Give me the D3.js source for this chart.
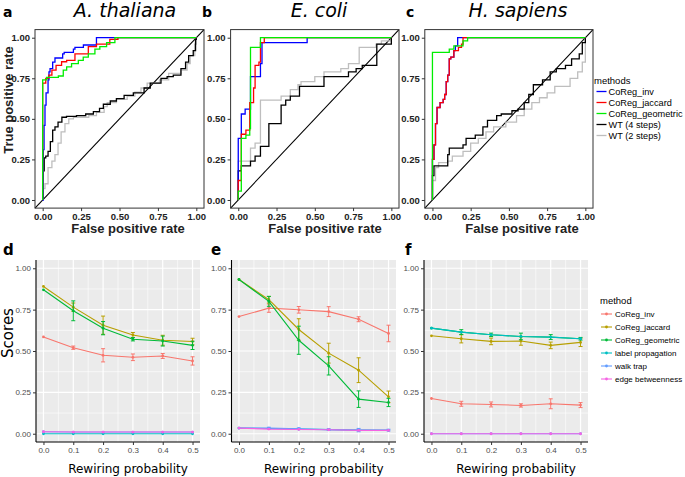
<!DOCTYPE html>
<html><head><meta charset="utf-8">
<script src="https://cdn.jsdelivr.net/npm/d3@7"></script>
<style>body{margin:0;background:#fff}svg{display:block}</style>
</head><body>
<svg id="c" width="685" height="477"></svg>
<script>
// ---------------- DATA ----------------
const rocMethods = ["CoReg_inv","CoReg_jaccard","CoReg_geometric","WT (4 steps)","WT (2 steps)"];
const rocTickLabels = ["0.00","0.25","0.50","0.75","1.00"];
const rocTicks = [0,0.25,0.5,0.75,1];
const species = ["A. thaliana","E. coli","H. sapiens"];

// A. thaliana  [false positive rate, true positive rate]
const rocA_inv = [[0,0],[0.004,0.31],[0.009,0.46],[0.015,0.585],[0.022,0.66],[0.035,0.74],[0.041,0.79],[0.048,0.81],[0.065,0.85],[0.08,0.875],[0.13,0.9],[0.14,0.91],[0.2,0.93],[0.21,0.94],[0.265,0.955],[0.35,1],[1,1]];
const rocA_jac = [[0,0],[0,0.72],[0.02,0.75],[0.04,0.77],[0.06,0.8],[0.087,0.83],[0.123,0.852],[0.156,0.86],[0.21,0.9],[0.297,0.945],[0.35,0.96],[0.437,0.99],[0.49,1],[1,1]];
const rocA_geo = [[0,0],[0,0.74],[0.026,0.755],[0.102,0.764],[0.134,0.8],[0.156,0.82],[0.188,0.84],[0.232,0.86],[0.264,0.88],[0.297,0.9],[0.34,0.93],[0.372,0.945],[0.416,0.97],[0.47,1],[1,1]];
const rocA_wt4 = [[0,0],[0,0.18],[0.01,0.26],[0.02,0.27],[0.035,0.3],[0.05,0.36],[0.065,0.43],[0.08,0.45],[0.1,0.48],[0.125,0.51],[0.155,0.515],[0.22,0.52],[0.28,0.53],[0.33,0.545],[0.37,0.565],[0.395,0.59],[0.44,0.61],[0.48,0.625],[0.53,0.645],[0.59,0.66],[0.66,0.69],[0.7,0.72],[0.77,0.75],[0.81,0.76],[0.85,0.77],[0.9,0.81],[0.93,0.85],[0.95,0.89],[0.98,0.92],[0.995,0.99],[1,1]];
const rocA_wt2 = [[0,0],[0,0.07],[0.015,0.1],[0.035,0.2],[0.06,0.24],[0.08,0.28],[0.1,0.35],[0.12,0.42],[0.145,0.47],[0.17,0.5],[0.2,0.51],[0.3,0.52],[0.35,0.54],[0.4,0.575],[0.42,0.6],[0.48,0.62],[0.55,0.64],[0.6,0.665],[0.64,0.69],[0.68,0.72],[0.76,0.74],[0.82,0.78],[0.9,0.8],[0.94,0.84],[0.96,0.89],[0.99,0.96],[1,1]];

// E. coli
const rocE_inv = [[0,0],[0,0.21],[0,0.38],[0.02,0.53],[0.045,0.56],[0.08,0.76],[0.145,0.84],[0.155,0.97],[0.385,0.97],[0.45,1],[1,1]];
const rocE_jac = [[0,0],[0,0.12],[0.02,0.405],[0.05,0.43],[0.075,0.6],[0.1,0.69],[0.11,0.83],[0.135,0.85],[0.145,0.97],[0.17,1],[1,1]];
const rocE_geo = [[0,0],[0,0.055],[0.02,0.38],[0.05,0.4],[0.075,0.44],[0.08,0.94],[0.145,1],[1,1]];
const rocE_wt4 = [[0,0],[0,0.18],[0.02,0.21],[0.08,0.24],[0.11,0.27],[0.145,0.33],[0.2,0.47],[0.28,0.585],[0.31,0.615],[0.34,0.64],[0.4,0.7],[0.56,0.76],[0.72,0.79],[0.77,0.81],[0.81,0.83],[0.905,0.96],[1,1]];
const rocE_wt2 = [[0,0],[0,0.24],[0.08,0.32],[0.11,0.35],[0.145,0.615],[0.28,0.64],[0.34,0.68],[0.39,0.71],[0.41,0.73],[0.5,0.76],[0.56,0.79],[0.67,0.81],[0.72,0.84],[0.79,0.94],[0.9,0.96],[0.935,0.98],[1,1]];

// H. sapiens
const rocH_inv = [[0,0],[0,0.25],[0.01,0.34],[0.02,0.47],[0.03,0.57],[0.05,0.6],[0.07,0.62],[0.08,0.65],[0.09,0.73],[0.1,0.77],[0.11,0.87],[0.12,0.88],[0.14,0.92],[0.15,0.95],[0.165,1],[1,1]];
const rocH_jac = [[0,0],[0,0.25],[0.01,0.34],[0.02,0.47],[0.03,0.57],[0.05,0.6],[0.07,0.62],[0.08,0.65],[0.09,0.73],[0.1,0.77],[0.11,0.87],[0.12,0.88],[0.14,0.92],[0.17,0.94],[0.19,0.96],[0.2,1],[1,1]];
const rocH_geo = [[0,0],[0,0.91],[0.11,0.93],[0.14,0.95],[0.2,0.98],[0.23,1],[1,1]];
const rocH_wt4 = [[0,0],[0,0.15],[0.01,0.21],[0.1,0.28],[0.11,0.32],[0.2,0.34],[0.22,0.38],[0.28,0.4],[0.33,0.45],[0.36,0.49],[0.42,0.52],[0.45,0.53],[0.52,0.55],[0.56,0.56],[0.6,0.6],[0.63,0.65],[0.66,0.71],[0.72,0.74],[0.77,0.79],[0.81,0.81],[0.87,0.83],[0.91,0.87],[0.96,0.9],[0.98,0.97],[1,1]];
const rocH_wt2 = [[0,0],[0,0.12],[0.02,0.2],[0.04,0.23],[0.1,0.24],[0.13,0.27],[0.2,0.3],[0.25,0.35],[0.3,0.38],[0.35,0.42],[0.4,0.45],[0.48,0.48],[0.55,0.52],[0.6,0.56],[0.65,0.6],[0.7,0.63],[0.75,0.66],[0.8,0.7],[0.9,0.75],[0.95,0.79],[0.98,0.85],[1,1]];

// Scores vs rewiring probability
const rewiring = [0,0.1,0.2,0.3,0.4,0.5];
const rewiringTickLabels = ["0.0","0.1","0.2","0.3","0.4","0.5"];
const scoreTicks = [0,0.25,0.5,0.75,1];
const scoreTickLabels = ["0.00","0.25","0.50","0.75","1.00"];
const scoreMethods = ["CoReg_inv","CoReg_jaccard","CoReg_geometric","label propagation","walk trap","edge betweenness"];

// panel d (A. thaliana)
const dInv = [0.585,0.52,0.474,0.462,0.47,0.44];
const dInvErr = [0,0.01,0.04,0.02,0.015,0.025];
const dJac = [0.89,0.765,0.656,0.597,0.565,0.557];
const dJacErr = [0,0.025,0.055,0.015,0.03,0.02];
const dGeo = [0.87,0.743,0.638,0.571,0.56,0.534];
const dGeoErr = [0,0.06,0.04,0.01,0.03,0.025];
const dLab = [0,0,0,0,0,0];
const dWalk = [0.012,0.01,0.01,0.01,0.01,0.01];
const dEdge = [0.012,0.01,0.01,0.01,0.01,0.01];
// panel e (E. coli)
const eInv = [0.708,0.759,0.749,0.738,0.692,0.606];
const eInvErr = [0,0.025,0.02,0.03,0.015,0.05];
const eJac = [0.932,0.81,0.63,0.487,0.384,0.223];
const eJacErr = [0,0.02,0.065,0.06,0.075,0.035];
const eGeo = [0.932,0.8,0.565,0.41,0.209,0.189];
const eGeoErr = [0,0.03,0.085,0.055,0.05,0.025];
const eLab = [0.034,0.032,0.028,0.025,0.022,0.02];
const eWalk = [0.034,0.034,0.03,0.025,0.022,0.022];
const eWalkErr = [0,0.005,0.005,0.005,0.01,0.005];
const eEdge = [0.034,0.028,0.026,0.024,0.02,0.02];
// panel f (H. sapiens)
const fInv = [0.213,0.181,0.177,0.171,0.181,0.173];
const fInvErr = [0,0.015,0.015,0.01,0.03,0.015];
const fJac = [0.592,0.574,0.558,0.56,0.534,0.552];
const fJacErr = [0,0.025,0.02,0.025,0.02,0.025];
const fGeo = [0.638,0.614,0.598,0.588,0.584,0.574];
const fGeoErr = [0,0.015,0.01,0.02,0.015,0.008];
const fLab = [0.638,0.614,0.598,0.588,0.584,0.574];
const fWalk = [0,0,0,0,0,0];
const fEdge = [0,0,0,0,0,0];
const noErr = [0,0,0,0,0,0];

// ---------------- STYLE ----------------
const rocColors = ["#0000FF","#FF0000","#00EE00","#000000","#BEBEBE"];
const scoreColors = ["#F8766D","#B79F00","#00BA38","#00BFC4","#619CFF","#F564E3"];
const LIB = "'Liberation Sans', Arial, sans-serif";
const DJV = "'DejaVu Sans', sans-serif";

const svg = d3.select("#c");
svg.append("rect").attr("width",685).attr("height",477).attr("fill","#fff");

// ---------------- TOP: ROC panels ----------------
const rocLayout = [
  {left:35, right:204, letter:"a", letterX:3, titleX:125, xlabX:128, ylab:true},
  {left:230.6, right:399, letter:"b", letterX:202, titleX:319, xlabX:325, ylab:false},
  {left:424.8, right:593, letter:"c", letterX:406, titleX:518, xlabX:522, ylab:false}
];
const rocData = [
  [rocA_inv,rocA_jac,rocA_geo,rocA_wt4,rocA_wt2],
  [rocE_inv,rocE_jac,rocE_geo,rocE_wt4,rocE_wt2],
  [rocH_inv,rocH_jac,rocH_geo,rocH_wt4,rocH_wt2]
];
const rocTop = 29.6, rocBottom = 208.1;
const drawOrder = [4,3,0,1,2];

rocLayout.forEach((p,pi)=>{
  const x = d3.scaleLinear().domain([-0.05,1.05]).range([p.left,p.right]);
  const y = d3.scaleLinear().domain([-0.05,1.05]).range([rocBottom,rocTop]);
  const g = svg.append("g");
  g.append("line").attr("x1",x(-0.05)).attr("y1",y(-0.05)).attr("x2",x(1.05)).attr("y2",y(1.05))
    .attr("stroke","#000").attr("stroke-width",1.1);
  const line = d3.line().x(d=>x(d[0])).y(d=>y(d[1])).curve(d3.curveStepAfter);
  drawOrder.forEach(k=>{
    g.append("path").attr("d",line(rocData[pi][k])).attr("fill","none")
      .attr("stroke",rocColors[k]).attr("stroke-width",1.3);
  });
  g.append("rect").attr("x",p.left).attr("y",rocTop).attr("width",p.right-p.left).attr("height",rocBottom-rocTop)
    .attr("fill","none").attr("stroke","#333").attr("stroke-width",1);
  const ax = g.append("g").attr("transform",`translate(0,${rocBottom})`)
    .call(d3.axisBottom(x).tickValues(rocTicks).tickFormat((d,i)=>rocTickLabels[i]).tickSize(3).tickPadding(2));
  const ay = g.append("g").attr("transform",`translate(${p.left},0)`)
    .call(d3.axisLeft(y).tickValues(rocTicks).tickFormat((d,i)=>rocTickLabels[i]).tickSize(3).tickPadding(2));
  [ax,ay].forEach(a=>{
    a.select(".domain").remove();
    a.selectAll(".tick line").attr("stroke","#333");
    a.selectAll(".tick text").attr("font-family",LIB).attr("font-size",9.5).attr("font-weight","bold").attr("fill","#222");
  });
  g.append("text").attr("x",p.titleX).attr("y",16.5).attr("text-anchor","middle")
    .attr("font-family",DJV).attr("font-style","italic").attr("font-size",19).attr("fill","#000").text(species[pi]);
  g.append("text").attr("x",p.letterX).attr("y",17.3).attr("font-family",DJV).attr("font-weight","bold")
    .attr("font-size",14).attr("fill","#000").text(p.letter);
  g.append("text").attr("x",p.xlabX).attr("y",232.5).attr("text-anchor","middle")
    .attr("font-family",LIB).attr("font-weight","bold").attr("font-size",13).attr("fill","#222").text("False positive rate");
  if(p.ylab){
    g.append("text").attr("transform","translate(12.5,100) rotate(-90)").attr("text-anchor","middle")
      .attr("font-family",LIB).attr("font-weight","bold").attr("font-size",13).attr("fill","#222").text("True positive rate");
  }
});

// top legend
const tl = svg.append("g");
tl.append("text").attr("x",594).attr("y",84).attr("font-family",LIB).attr("font-size",9.5).attr("fill","#000").text("methods");
rocMethods.forEach((m,i)=>{
  const yy = 95 + i*11;
  tl.append("line").attr("x1",596.5).attr("x2",606.5).attr("y1",yy-3.5).attr("y2",yy-3.5)
    .attr("stroke",rocColors[i]).attr("stroke-width",1.3);
  tl.append("text").attr("x",608.5).attr("y",yy).attr("font-family",LIB).attr("font-size",9.2).attr("fill","#000").text(m);
});

// ---------------- BOTTOM: score panels ----------------
const scLayout = [
  {left:36, right:200, letter:"d", letterX:3, ylab:true},
  {left:231.5, right:396, letter:"e", letterX:211, ylab:false},
  {left:424, right:588, letter:"f", letterX:405, ylab:false}
];
const scData = [
  [[dInv,dInvErr],[dJac,dJacErr],[dGeo,dGeoErr],[dLab,noErr],[dWalk,noErr],[dEdge,noErr]],
  [[eInv,eInvErr],[eJac,eJacErr],[eGeo,eGeoErr],[eLab,noErr],[eWalk,eWalkErr],[eEdge,noErr]],
  [[fInv,fInvErr],[fJac,fJacErr],[fGeo,fGeoErr],[fLab,noErr],[fWalk,noErr],[fEdge,noErr]]
];
const scTop = 260, scBottom = 442;

scLayout.forEach((p,pi)=>{
  const x = d3.scaleLinear().domain([-0.025,0.525]).range([p.left,p.right]);
  const y = d3.scaleLinear().domain([-0.05,1.05]).range([scBottom,scTop]);
  const g = svg.append("g");
  g.append("rect").attr("x",p.left).attr("y",scTop).attr("width",p.right-p.left).attr("height",scBottom-scTop).attr("fill","#EBEBEB");
  const xMinor = [0.05,0.15,0.25,0.35,0.45];
  const yMinor = [0.125,0.375,0.625,0.875];
  xMinor.forEach(v=>g.append("line").attr("x1",x(v)).attr("x2",x(v)).attr("y1",scTop).attr("y2",scBottom).attr("stroke","#fff").attr("stroke-width",0.6));
  yMinor.forEach(v=>g.append("line").attr("y1",y(v)).attr("y2",y(v)).attr("x1",p.left).attr("x2",p.right).attr("stroke","#fff").attr("stroke-width",0.6));
  rewiring.forEach(v=>g.append("line").attr("x1",x(v)).attr("x2",x(v)).attr("y1",scTop).attr("y2",scBottom).attr("stroke","#fff").attr("stroke-width",1.2));
  scoreTicks.forEach(v=>g.append("line").attr("y1",y(v)).attr("y2",y(v)).attr("x1",p.left).attr("x2",p.right).attr("stroke","#fff").attr("stroke-width",1.2));
  const line = d3.line().x((d,i)=>x(rewiring[i])).y(d=>y(d));
  scData[pi].forEach((s,k)=>{
    const [vals,errs] = s;
    const c = scoreColors[k];
    g.append("path").attr("d",line(vals)).attr("fill","none").attr("stroke",c).attr("stroke-width",1.1);
    vals.forEach((v,i)=>{
      const e = errs[i];
      if(e>0){
        const cx = x(rewiring[i]);
        g.append("line").attr("x1",cx).attr("x2",cx).attr("y1",y(v-e)).attr("y2",y(v+e)).attr("stroke",c).attr("stroke-width",1);
        [v-e,v+e].forEach(w=>g.append("line").attr("x1",cx-2).attr("x2",cx+2).attr("y1",y(w)).attr("y2",y(w)).attr("stroke",c).attr("stroke-width",1));
      }
      g.append("circle").attr("cx",x(rewiring[i])).attr("cy",y(v)).attr("r",1.4).attr("fill",c);
    });
  });
  const ax = g.append("g").attr("transform",`translate(0,${scBottom})`)
    .call(d3.axisBottom(x).tickValues(rewiring).tickFormat((d,i)=>rewiringTickLabels[i]).tickSize(3).tickPadding(2));
  const ay = g.append("g").attr("transform",`translate(${p.left},0)`)
    .call(d3.axisLeft(y).tickValues(scoreTicks).tickFormat((d,i)=>scoreTickLabels[i]).tickSize(3).tickPadding(2));
  [ax,ay].forEach(a=>{
    a.select(".domain").attr("stroke","#000").attr("stroke-width",1.1);
    a.selectAll(".tick line").attr("stroke","#333");
    a.selectAll(".tick text").attr("font-family",LIB).attr("font-size",8).attr("fill","#4D4D4D");
  });
  ax.select(".domain").attr("d",`M${p.left},0H${p.right}`);
  ay.select(".domain").attr("d",`M0,${scTop}V${scBottom}`);
  g.append("text").attr("x",(p.left+p.right)/2+10).attr("y",473).attr("text-anchor","middle")
    .attr("font-family",DJV).attr("font-size",12).attr("fill","#000").text("Rewiring probability");
  g.append("text").attr("x",p.letterX).attr("y",255).attr("font-family",DJV).attr("font-weight","bold")
    .attr("font-size",15).attr("fill","#000").text(p.letter);
  if(p.ylab){
    g.append("text").attr("transform","translate(13,333) rotate(-90)").attr("text-anchor","middle")
      .attr("font-family",DJV).attr("font-size",15).attr("fill","#000").text("Scores");
  }
});

// bottom legend
const bl = svg.append("g");
bl.append("text").attr("x",600).attr("y",304).attr("font-family",LIB).attr("font-size",9.5).attr("fill","#000").text("method");
scoreMethods.forEach((m,i)=>{
  const yy = 317 + i*13;
  bl.append("line").attr("x1",601).attr("x2",612).attr("y1",yy-3).attr("y2",yy-3).attr("stroke",scoreColors[i]).attr("stroke-width",1.1);
  bl.append("circle").attr("cx",606.5).attr("cy",yy-3).attr("r",1.4).attr("fill",scoreColors[i]);
  bl.append("text").attr("x",615).attr("y",yy).attr("font-family",LIB).attr("font-size",8).attr("fill","#000").text(m);
});
</script>
</body></html>
